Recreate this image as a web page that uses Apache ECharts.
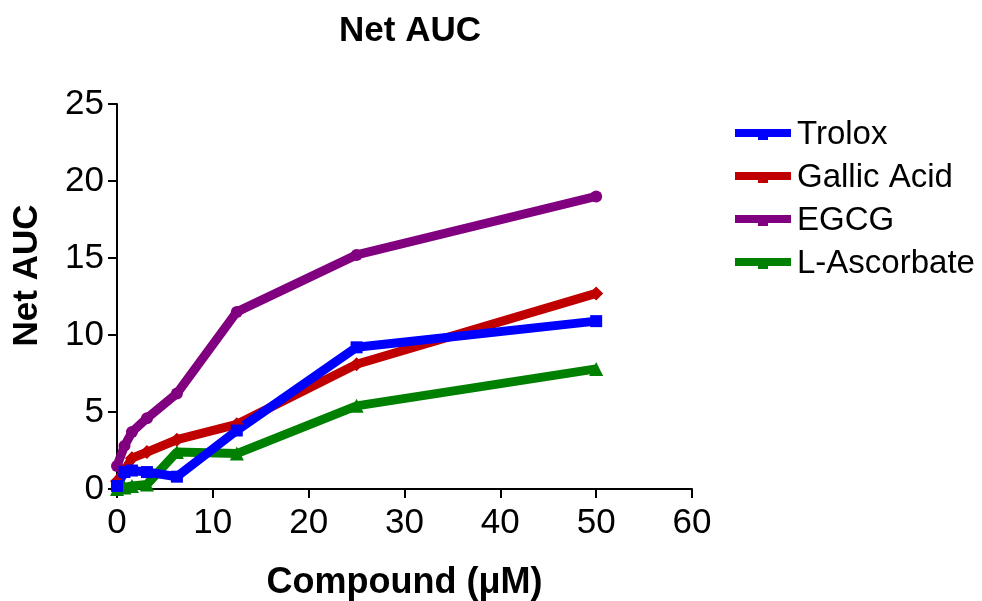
<!DOCTYPE html>
<html><head><meta charset="utf-8">
<script src="https://cdn.jsdelivr.net/npm/echarts@6/dist/echarts.min.js"></script>
<style>html,body{margin:0;padding:0;background:#fff}#c{width:982px;height:601px}</style>
</head><body><div id="c"></div>
<script>
const concentrations = [0, 0.78, 1.56, 3.125, 6.25, 12.5, 25, 50];
const trolox = [0.2, 1.1, 1.2, 1.1, 0.8, 3.8, 9.2, 10.9];
const gallicAcid = [0.5, 1.2, 2.0, 2.4, 3.2, 4.2, 8.1, 12.7];
const egcg = [1.5, 2.8, 3.7, 4.6, 6.2, 11.5, 15.2, 19.0];
const lAscorbate = [0.0, 0.1, 0.2, 0.3, 2.4, 2.3, 5.4, 7.8];
const seriesNames = ['Trolox', 'Gallic Acid', 'EGCG', 'L-Ascorbate'];

const pairs = v => concentrations.map((x, i) => [x, v[i]]);
const font = 'Liberation Sans, Arial, sans-serif';
const legendIcon = 'path://M0,0 H56 V8 H33 V11 H23 V8 H0 Z';
const defs = [
  {name: 'L-Ascorbate', data: lAscorbate, color: '#008000', symbol: 'triangle', size: 14},
  {name: 'EGCG', data: egcg, color: '#800080', symbol: 'circle', size: 12},
  {name: 'Gallic Acid', data: gallicAcid, color: '#C00000', symbol: 'diamond', size: 14},
  {name: 'Trolox', data: trolox, color: '#0000FF', symbol: 'rect', size: 12}
];
const chart = echarts.init(document.getElementById('c'));
chart.setOption({
  animation: false,
  title: {text: 'Net AUC', left: 405, top: 9, textAlign: 'center',
    textStyle: {fontFamily: font, fontSize: 35, fontWeight: 'bold', color: '#000'}},
  grid: {left: 117, right: 290, top: 104, bottom: 112, containLabel: false, outerBoundsMode: 'none'},
  legend: {data: seriesNames.map(n => ({name: n, icon: legendIcon})), orient: 'vertical', left: 730, top: 113,
    itemWidth: 58, itemHeight: 11, itemGap: 10,
    textStyle: {fontFamily: font, fontSize: 33, lineHeight: 33, color: '#000', padding: [0, 0, 0, 0]}},
  xAxis: {type: 'value', min: 0, max: 60, interval: 10,
    name: 'Compound (\u03bcM)', nameLocation: 'middle', nameGap: 76,
    nameTextStyle: {fontFamily: font, fontSize: 36, fontWeight: 'bold', color: '#000'},
    axisLine: {lineStyle: {color: '#000', width: 2}},
    axisTick: {show: true, length: 9, lineStyle: {color: '#000', width: 2}},
    axisLabel: {fontFamily: font, fontSize: 35, color: '#000', margin: 17},
    splitLine: {show: false}},
  yAxis: {type: 'value', min: 0, max: 25, interval: 5,
    name: 'Net AUC', nameLocation: 'middle', nameGap: 72, nameRotate: 90,
    nameTextStyle: {fontFamily: font, fontSize: 35, fontWeight: 'bold', color: '#000', padding: [0, 0, 0, 42]},
    axisLine: {show: true, lineStyle: {color: '#000', width: 2}},
    axisTick: {show: true, length: 9, lineStyle: {color: '#000', width: 2}},
    axisLabel: {fontFamily: font, fontSize: 35, color: '#000', margin: 13},
    splitLine: {show: false}},
  series: defs.map(d => ({
    name: d.name, type: 'line', data: pairs(d.data), symbol: d.symbol, symbolSize: d.size,
    showAllSymbol: true, color: d.color,
    lineStyle: {width: 9, color: d.color}, itemStyle: {color: d.color}
  }))
});
</script></body></html>
